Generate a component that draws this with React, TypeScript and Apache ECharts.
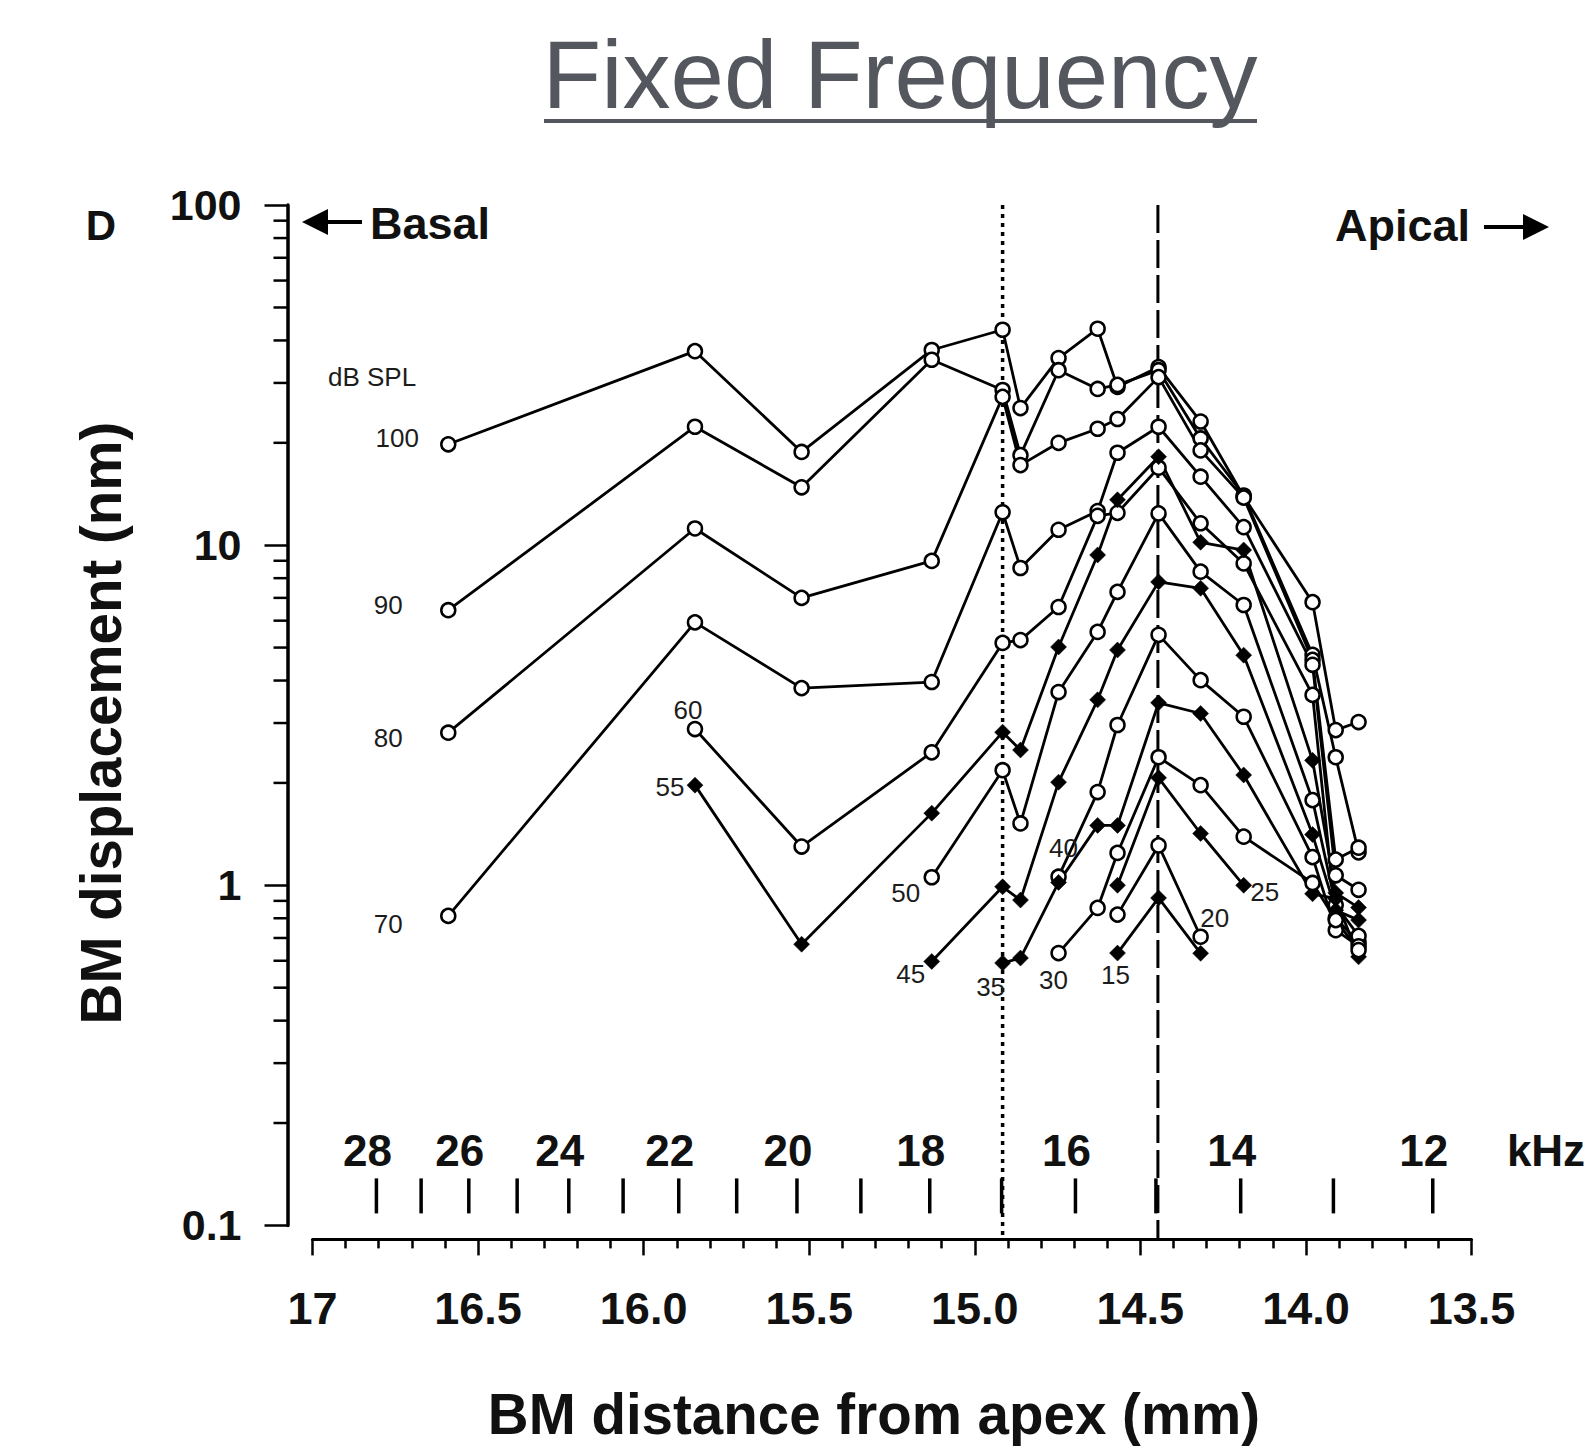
import React, { useEffect, useRef } from "react";
import * as echarts from "echarts";

const FONT = '"Liberation Sans", Arial, Helvetica, sans-serif';
const INK = "#111111";
const TITLE_GRAY = "#54585e";

// ---- data -------------------------------------------------------------
// measurement places along the basilar membrane (mm from apex)
const placesMm = [16.59, 15.845, 15.523, 15.13, 14.916, 14.862, 14.747, 14.629, 14.569, 14.445, 14.318, 14.188, 13.98, 13.91, 13.841];

// stimulus levels (dB SPL) and which are drawn with filled diamonds
const levelsDbSpl = [100, 90, 80, 70, 60, 55, 50, 45, 40, 35, 30, 25, 20, 15];
const filledLevels = [55, 45, 35, 25, 15];
// index into placesMm of the first measured place of each level
const firstPlaceIndex = [0, 0, 0, 0, 1, 1, 3, 3, 6, 4, 6, 8, 8, 8];

// BM displacement (nm)
const disp100 = [19.8, 37.2, 18.8, 37.5, 43.0, 25.3, 35.5, 43.3, 29.2, 33.4, 23.1, 13.9, 6.8, 2.86, 3.02];
const disp90 = [6.44, 22.3, 14.8, 35.1, 28.6, 18.4, 32.7, 28.8, 29.6, 32.7, 20.6, 14.0, 4.76, 2.38, 1.25];
const disp80 = [2.81, 11.2, 7.0, 8.99, 27.3, 17.2, 20.0, 22.0, 23.5, 31.2, 19.0, 13.8, 4.6, 1.19, 1.29];
const disp70 = [0.813, 5.93, 3.8, 3.96, 12.5, 8.57, 11.1, 12.6, 18.7, 22.3, 15.9, 11.3, 4.45, 1.07, 0.97];
const disp60 = [2.88, 1.3, 2.46, 5.16, 5.26, 6.58, 12.2, 12.45, 16.9, 11.6, 8.84, 3.63, 0.8, 0.68];
const disp55 = [1.97, 0.671, 1.63, 2.82, 2.5, 5.02, 9.36, 13.6, 18.2, 10.2, 9.68, 2.33, 0.95, 0.86];
const disp50 = [1.056, 2.18, 1.52, 3.7, 5.56, 7.29, 12.4, 8.36, 6.67, 1.78, 0.875, 0.71];
const disp45 = [0.597, 0.99, 0.905, 2.01, 3.51, 4.92, 7.8, 7.47, 4.75, 1.41, 0.845, 0.79];
const disp40 = [1.06, 1.88, 2.96, 5.45, 4.01, 3.13, 1.21, 0.738, 0.662];
const disp35 = [0.591, 0.611, 1.02, 1.5, 1.5, 3.44, 3.2, 2.11, 0.944, 0.913, 0.616];
const disp30 = [0.632, 0.858, 1.245, 2.38, 1.97, 1.39, 1.016, 0.79, 0.645];
const disp25 = [1.0, 2.07, 1.42, 1.0];
const disp20 = [0.82, 1.31, 0.706];
const disp15 = [0.632, 0.918, 0.631];
const displacements = [disp100, disp90, disp80, disp70, disp60, disp55, disp50, disp45, disp40, disp35, disp30, disp25, disp20, disp15];

// frequency-place scale (kHz ticks and where they fall, mm)
const kHzTicks = [28, 27, 26, 25, 24, 23, 22, 21, 20, 19, 18, 17, 16, 15, 14, 13, 12];
const kHzTickPlacesMm = [16.807, 16.672, 16.528, 16.382, 16.226, 16.062, 15.894, 15.719, 15.537, 15.344, 15.136, 14.919, 14.696, 14.453, 14.197, 13.917, 13.617];
const kHzLabelled = [28, 26, 24, 22, 20, 18, 16, 14, 12];

// minor ticks of the log displacement axis
const minorYTicks = [0.2, 0.3, 0.4, 0.5, 0.6, 0.7, 0.8, 0.9, 2, 3, 4, 5, 6, 7, 8, 9, 20, 30, 40, 50, 60, 70, 80, 90];

// reference places (mm)
const dottedPlaceMm = 14.916;
const dashedPlaceMm = 14.447;

// ---- label placement (styles) -----------------------------------------
const levelLabelAnchor: Record<number, { end: "first" | "last"; offset: [number, number] }> = {
  100: { end: "first", offset: [-51, -6] },
  90: { end: "first", offset: [-60, -5] },
  80: { end: "first", offset: [-60, 5] },
  70: { end: "first", offset: [-60, 8] },
  60: { end: "first", offset: [-7, -19] },
  55: { end: "first", offset: [-25, 2] },
  50: { end: "first", offset: [-26, 16] },
  45: { end: "first", offset: [-21, 13] },
  40: { end: "first", offset: [5, -29] },
  35: { end: "first", offset: [-12, 24] },
  30: { end: "first", offset: [-5, 27] },
  25: { end: "last", offset: [21, 7] },
  20: { end: "last", offset: [14, -19] },
  15: { end: "first", offset: [-2, 22] },
};

const Y_AXIS_OFFSET = 25;
const X_AXIS_OFFSET = 14;

export default function App() {
  const ref = useRef<HTMLDivElement | null>(null);

  useEffect(() => {
    document.body.style.margin = "0";
    document.body.style.overflow = "hidden";
    if (!ref.current) return;
    const chart = echarts.init(ref.current, undefined, { renderer: "svg" });

    const levelSeries = levelsDbSpl.map((level, li) => {
      const vals = displacements[li];
      const start = firstPlaceIndex[li];
      const filled = filledLevels.includes(level);
      const anchor = levelLabelAnchor[level];
      const data = vals.map((v, i) => {
        const item: any = { value: [placesMm[start + i], v] };
        const isAnchor = anchor.end === "first" ? i === 0 : i === vals.length - 1;
        if (isAnchor) {
          item.label = {
            show: true,
            position: "inside",
            offset: anchor.offset,
            formatter: String(level),
            fontSize: 26,
            fontFamily: FONT,
            color: "#1c1c1c",
            textBorderWidth: 0,
          };
        }
        return item;
      });
      return {
        type: "line",
        name: level + " dB SPL",
        data,
        showAllSymbol: true,
        symbol: filled ? "diamond" : "circle",
        symbolSize: filled ? 16 : 14,
        itemStyle: filled
          ? { color: "#000", borderColor: "#000", borderWidth: 0.5 }
          : { color: "#fff", borderColor: "#000", borderWidth: 2.5 },
        lineStyle: { color: "#000", width: 2.8 },
        label: { show: false },
        emphasis: { disabled: true },
        silent: true,
        clip: false,
        z: 3,
      };
    });

    const option: any = {
      animation: false,
      backgroundColor: "#ffffff",
      grid: {
        left: 312.5,
        right: 120.5,
        top: 205.1,
        bottom: 227.6,
        containLabel: false,
        outerBoundsMode: "none",
      },
      xAxis: {
        type: "value",
        inverse: true,
        min: 13.5,
        max: 17,
        interval: 0.5,
        offset: X_AXIS_OFFSET,
        axisLine: { show: true, onZero: false, lineStyle: { color: "#000", width: 3 } },
        axisTick: { show: true, length: 16, lineStyle: { color: "#000", width: 2.5 } },
        minorTick: { show: true, splitNumber: 5, length: 9, lineStyle: { color: "#000", width: 2.5 } },
        splitLine: { show: false },
        minorSplitLine: { show: false },
        axisLabel: {
          margin: 47,
          fontSize: 45,
          fontWeight: "bold",
          fontFamily: FONT,
          color: INK,
          formatter: (v: number) => (Math.abs(v - 17) < 1e-9 ? "17" : v.toFixed(1)),
        },
      },
      yAxis: {
        type: "log",
        logBase: 10,
        min: 0.1,
        max: 100,
        offset: Y_AXIS_OFFSET,
        axisLine: { show: true, onZero: false, lineStyle: { color: "#000", width: 3.5 } },
        axisTick: { show: true, length: 23, lineStyle: { color: "#000", width: 2.5 } },
        splitLine: { show: false },
        axisLabel: {
          margin: 46,
          fontSize: 43,
          fontWeight: "bold",
          fontFamily: FONT,
          color: INK,
          formatter: (v: number) => String(Number(v.toPrecision(3))),
        },
      },
      series: [
        // reference places
        {
          type: "line",
          data: [
            [dottedPlaceMm, 100],
            [dottedPlaceMm, 0.0905],
          ],
          symbol: "none",
          lineStyle: { color: "#000", width: 3.5, type: [4, 5] },
          clip: false,
          silent: true,
          z: 2,
        },
        {
          type: "line",
          data: [
            [dashedPlaceMm, 100],
            [dashedPlaceMm, 0.0905],
          ],
          symbol: "none",
          lineStyle: { color: "#000", width: 3, type: [28, 7] },
          clip: false,
          silent: true,
          z: 2,
        },
        // minor ticks of the log axis
        {
          type: "custom",
          data: minorYTicks.map((v) => [17, v]),
          clip: false,
          silent: true,
          renderItem: (params: any, api: any) => {
            const p = api.coord([17, api.value(1)]);
            const x0 = params.coordSys.x - Y_AXIS_OFFSET;
            return {
              type: "line",
              shape: { x1: x0 - 14, y1: p[1], x2: x0, y2: p[1] },
              style: { stroke: "#000", lineWidth: 2.5 },
            };
          },
          z: 4,
        },
        // kHz scale
        {
          type: "custom",
          data: kHzTicks.map((k, i) => [kHzTickPlacesMm[i], k]),
          clip: false,
          silent: true,
          renderItem: (params: any, api: any) => {
            const k = api.value(1);
            const p = api.coord([api.value(0), 0.1]);
            const children: any[] = [
              {
                type: "line",
                shape: { x1: p[0], y1: p[1] - 47, x2: p[0], y2: p[1] - 12 },
                style: { stroke: "#000", lineWidth: 3.5 },
              },
            ];
            if (kHzLabelled.includes(k)) {
              children.push({
                type: "text",
                style: {
                  text: String(k),
                  x: p[0] - 9,
                  y: p[1] - 75,
                  align: "center",
                  verticalAlign: "middle",
                  fontSize: 44,
                  fontWeight: "bold",
                  fontFamily: FONT,
                  fill: INK,
                },
              });
            }
            return { type: "group", children };
          },
          z: 4,
        },
        ...levelSeries,
      ],
      graphic: [
        {
          type: "text",
          x: 900,
          y: 74,
          style: {
            text: "Fixed Frequency",
            align: "center",
            verticalAlign: "middle",
            fontSize: 96,
            fontFamily: FONT,
            fill: TITLE_GRAY,
          },
        },
        {
          type: "line",
          shape: { x1: 544, y1: 121, x2: 1257, y2: 121 },
          style: { stroke: TITLE_GRAY, lineWidth: 4 },
        },
        {
          type: "text",
          x: 101,
          y: 225,
          style: { text: "D", align: "center", verticalAlign: "middle", fontSize: 42, fontWeight: "bold", fontFamily: FONT, fill: INK },
        },
        {
          type: "polygon",
          shape: { points: [[302, 222], [328, 209], [328, 235]] },
          style: { fill: "#000" },
        },
        {
          type: "line",
          shape: { x1: 324, y1: 222, x2: 362, y2: 222 },
          style: { stroke: "#000", lineWidth: 4 },
        },
        {
          type: "text",
          x: 370,
          y: 223,
          style: { text: "Basal", align: "left", verticalAlign: "middle", fontSize: 45, fontWeight: "bold", fontFamily: FONT, fill: INK },
        },
        {
          type: "text",
          x: 1335,
          y: 225,
          style: { text: "Apical", align: "left", verticalAlign: "middle", fontSize: 45, fontWeight: "bold", fontFamily: FONT, fill: INK },
        },
        {
          type: "line",
          shape: { x1: 1484, y1: 227, x2: 1527, y2: 227 },
          style: { stroke: "#000", lineWidth: 4 },
        },
        {
          type: "polygon",
          shape: { points: [[1549, 227], [1523, 214], [1523, 240]] },
          style: { fill: "#000" },
        },
        {
          type: "text",
          x: 372,
          y: 377,
          style: { text: "dB SPL", align: "center", verticalAlign: "middle", fontSize: 26, fontFamily: FONT, fill: "#1c1c1c" },
        },
        {
          type: "text",
          x: 1546,
          y: 1150,
          style: { text: "kHz", align: "center", verticalAlign: "middle", fontSize: 44, fontWeight: "bold", fontFamily: FONT, fill: INK },
        },
        {
          type: "text",
          x: 874,
          y: 1414,
          style: {
            text: "BM distance from apex (mm)",
            align: "center",
            verticalAlign: "middle",
            fontSize: 56.5,
            fontWeight: "bold",
            fontFamily: FONT,
            fill: INK,
          },
        },
        {
          type: "text",
          x: 101,
          y: 723,
          rotation: Math.PI / 2,
          style: {
            text: "BM displacement (nm)",
            align: "center",
            verticalAlign: "middle",
            fontSize: 56.5,
            fontWeight: "bold",
            fontFamily: FONT,
            fill: INK,
          },
        },
      ],
    };

    chart.setOption(option);
    return () => {
      chart.dispose();
    };
  }, []);

  return (
    <div
      ref={ref}
      style={{ position: "absolute", left: 0, top: 0, width: 1592, height: 1453, background: "#fff" }}
    />
  );
}
